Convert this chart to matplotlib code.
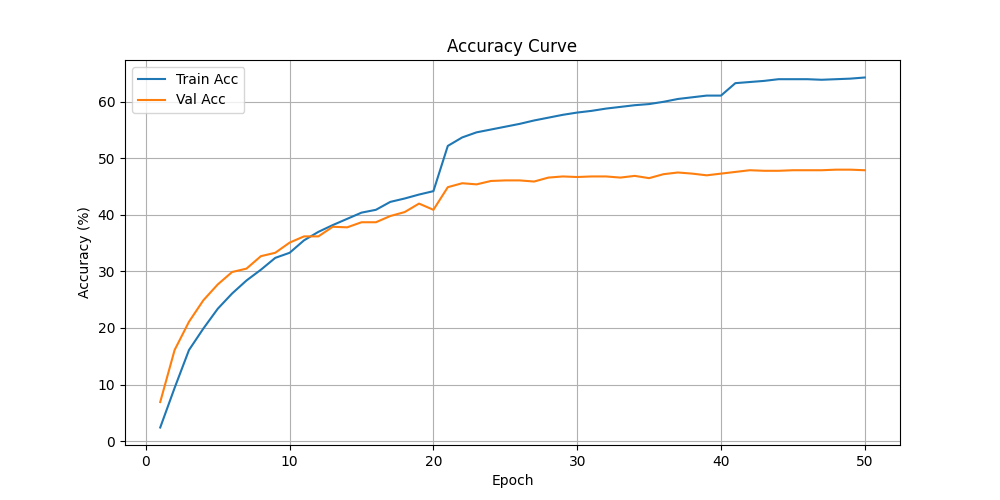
import matplotlib
matplotlib.use('Agg')
import matplotlib.pyplot as plt

epochs = list(range(1, 51))
train_acc = [2.4, 9.4, 16.1, 19.9, 23.4, 26.1, 28.4, 30.3, 32.4, 33.3,
             35.5, 37.0, 38.2, 39.3, 40.4, 40.9, 42.3, 42.9, 43.6, 44.2,
             52.2, 53.7, 54.6, 55.1, 55.6, 56.1, 56.7, 57.2, 57.7, 58.1,
             58.4, 58.8, 59.1, 59.4, 59.6, 60.0, 60.5, 60.8, 61.1, 61.1,
             63.3, 63.5, 63.7, 64.0, 64.0, 64.0, 63.9, 64.0, 64.1, 64.3]
val_acc = [6.9, 16.1, 21.1, 24.9, 27.7, 29.9, 30.5, 32.7, 33.3, 35.1,
           36.2, 36.2, 37.9, 37.8, 38.7, 38.7, 39.8, 40.5, 42.0, 40.9,
           44.9, 45.6, 45.4, 46.0, 46.1, 46.1, 45.9, 46.6, 46.8, 46.7,
           46.8, 46.8, 46.6, 46.9, 46.5, 47.2, 47.5, 47.3, 47.0, 47.3,
           47.6, 47.9, 47.8, 47.8, 47.9, 47.9, 47.9, 48.0, 48.0, 47.9]

plt.figure(figsize=(10, 5))
plt.plot(epochs, train_acc, label='Train Acc')
plt.plot(epochs, val_acc, label='Val Acc')
plt.title('Accuracy Curve')
plt.xlabel('Epoch')
plt.ylabel('Accuracy (%)')
plt.legend()
plt.grid(True)
plt.savefig('out.png', dpi=100)
